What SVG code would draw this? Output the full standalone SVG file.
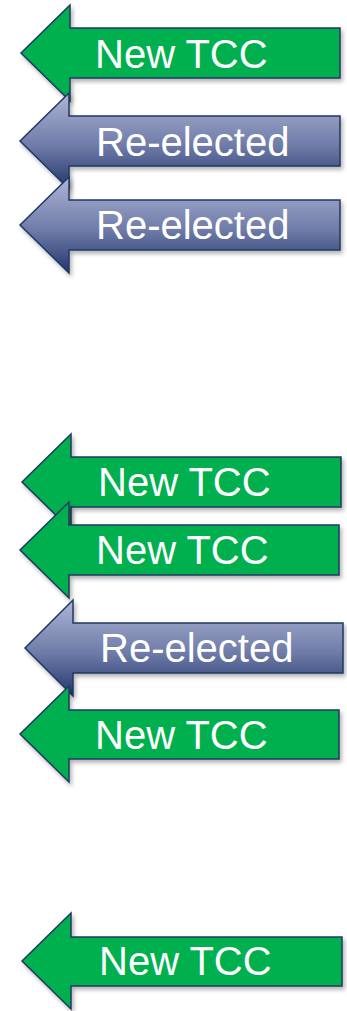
<svg xmlns="http://www.w3.org/2000/svg" width="347" height="1011" viewBox="0 0 347 1011">
<defs>
<linearGradient id="blue" x1="0" y1="0" x2="0" y2="1">
<stop offset="0" stop-color="#aeb6d6"/>
<stop offset="0.55" stop-color="#6f7ba8"/>
<stop offset="1" stop-color="#22376d"/>
</linearGradient>
<filter id="sh" x="-10%" y="-10%" width="125%" height="130%">
<feDropShadow dx="2" dy="3" stdDeviation="2" flood-color="#000" flood-opacity="0.3"/>
</filter>
</defs>
<style>
.arrow{stroke:#1f3864;stroke-width:1.5;stroke-linejoin:miter;filter:url(#sh)}
.green{fill:#00b050}
.blue{fill:url(#blue)}
.lbl{font-family:"Liberation Sans",Arial,sans-serif;font-size:40px;fill:#ffffff}
</style>
<g id="connectors"></g>
<g id="arrow1">
<path class="arrow green" d="M21,53 L70,5 L70,28 L340,28 L340,78 L70,78 L70,101 Z"/>
<text class="lbl" x="95" y="68">New TCC</text>
</g>
<g id="arrow2">
<path class="arrow blue" d="M20,141 L69,93 L69,116 L340,116 L340,166 L69,166 L69,189 Z"/>
<text class="lbl" x="96" y="156">Re-elected</text>
</g>
<g id="arrow3">
<path class="arrow blue" d="M20,225 L69,177 L69,200 L340,200 L340,250 L69,250 L69,273 Z"/>
<text class="lbl" x="96" y="239">Re-elected</text>
</g>
<g id="arrow4">
<path class="arrow green" d="M22,482 L71,434 L71,457 L341,457 L341,507 L71,507 L71,530 Z"/>
<text class="lbl" x="98" y="496">New TCC</text>
</g>
<g id="arrow5">
<path class="arrow green" d="M20,550 L69,502 L69,525 L339,525 L339,575 L69,575 L69,598 Z"/>
<text class="lbl" x="96" y="564">New TCC</text>
</g>
<g id="arrow6">
<path class="arrow blue" d="M25,648 L73,600 L73,623 L343,623 L343,673 L73,673 L73,696 Z"/>
<text class="lbl" x="100" y="662">Re-elected</text>
</g>
<g id="arrow7">
<path class="arrow green" d="M20,734 L69,686 L69,710 L339,710 L339,759 L69,759 L69,782 Z"/>
<text class="lbl" x="95" y="749">New TCC</text>
</g>
<g id="arrow8">
<path class="arrow green" d="M22,961 L71,913 L71,937 L342,937 L342,986 L71,986 L71,1009 Z"/>
<text class="lbl" x="99" y="975">New TCC</text>
</g>
</svg>
